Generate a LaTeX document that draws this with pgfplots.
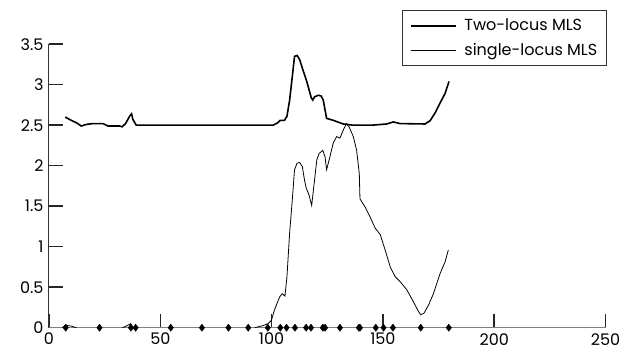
\documentclass[border=0pt]{standalone}
\usepackage{fontspec}
\setmainfont{Poppins}
\usepackage{pgfplots}
\pgfplotsset{compat=1.18}
\begin{document}
\begin{tikzpicture}
\fontsize{16}{19}\selectfont
\begin{axis}[
  at={(0pt,0pt)}, anchor=south west,
  scale only axis, width=556.5pt, height=283.5pt,
  xmin=0, xmax=250, ymin=0, ymax=3.5,
  clip=false,
  axis x line=bottom, axis y line=left,
  x axis line style={-, draw=gray, line width=1.1pt},
  y axis line style={-, draw=black!80, line width=1pt},
  xtick={0,50,100,150,200,250},
  ytick={0,0.5,1,1.5,2,2.5,3,3.5},
  tick align=inside,
  major tick length=14pt,
  every tick/.style={black!85, line width=1.5pt},
  /pgf/number format/assume math mode=true,
  tick label style={font=\fontsize{16}{19}\selectfont},
  unbounded coords=jump,
  legend style={at={(axis description cs:1.002,1.119)}, anchor=north east,
    draw=black!80, line width=0.7pt, font=\fontsize{16}{19}\selectfont,
    inner xsep=7pt, inner ysep=6pt, row sep=6pt, column sep=6pt,
    nodes={inner sep=2pt}},
  legend cell align=left,
  legend image code/.code={\draw[#1] (0pt,0pt) -- (45pt,0pt);},
]
\addplot[black, line width=1.6pt] coordinates {
(7.3,2.60)(10,2.56)(12.3,2.53)(14.5,2.49)(16.8,2.51)(19.8,2.52)(24.3,2.52)(26.5,2.49)
(31.7,2.49)(32.9,2.48)(34.4,2.52)(36.2,2.61)(37.1,2.64)(37.7,2.57)(39.2,2.50)(60,2.50)
(80,2.50)(100.6,2.50)(102.8,2.53)(103.9,2.56)(105.8,2.56)(106.9,2.61)(108.1,2.81)
(109.3,3.10)(110.3,3.35)(111.5,3.36)(112.6,3.31)(114.1,3.18)(115.8,3.04)(117.8,2.84)
(118.5,2.81)(119.3,2.85)(121,2.87)(122.3,2.86)(123.2,2.81)(124.7,2.585)(127.7,2.56)
(132.2,2.515)(136.7,2.50)(145,2.50)(151.7,2.515)(154.7,2.54)(157.7,2.52)(168.9,2.515)
(171.2,2.555)(173.4,2.65)(175.6,2.77)(177.9,2.89)(179.7,3.04)
};
\addlegendentry{Two-locus MLS}
\addplot[black, line width=0.8pt] coordinates {
(6,0)(7.3,0.03)(10,0.02)(12.3,0)(20,nan)
(33,0)(34.7,0.02)(36.7,0.05)(37.7,0)(60,nan)
(92.4,0)(96.1,0.025)(98.4,0.05)(99.9,0.09)(101.3,0.22)(103.6,0.38)(104.8,0.42)(106,0.39)
(106.9,0.63)(108.1,1.17)(109.3,1.58)(110.3,1.95)(111.4,2.03)(112.6,2.04)(113.8,1.99)
(114.8,1.82)(115.6,1.72)(116.8,1.64)(118,1.51)(119.2,1.80)(120.3,2.07)(121.3,2.15)
(123,2.19)(124,2.11)(124.7,1.95)(126.2,2.11)(127.7,2.28)(129.2,2.36)(130.7,2.34)
(132.2,2.44)(133.6,2.52)(134.8,2.48)(136.7,2.36)(138.2,2.19)(139.4,1.90)(139.7,1.59)
(142,1.49)(144.2,1.37)(146.5,1.23)(148.8,1.15)(151,0.96)(153.3,0.75)(155.5,0.63)
(157.7,0.57)(160.7,0.47)(163.7,0.32)(166,0.20)(167,0.16)(168.5,0.18)(170.5,0.28)
(172.7,0.42)(175.7,0.67)(177.9,0.81)(179.4,0.96)
};
\addlegendentry{single-locus MLS}
\addplot[only marks, mark=diamond*, mark size=3.6pt, black, forget plot] coordinates {
(7.5,0)(22.7,0)(36.8,0)(38.9,0)(54.7,0)(68.7,0)(80.6,0)(89.5,0)(98.3,0)(103.9,0)
(106.7,0)(110.5,0)(115.5,0)(117.7,0)(123,0)(124,0)(130.7,0)(139.2,0)(139.7,0)
(146.8,0)(150.3,0)(154.5,0)(167,0)(179.6,0)
};
\end{axis}
\pgfresetboundingbox
\useasboundingbox (-49pt,-23.3pt) rectangle (572pt,327.7pt);
\end{tikzpicture}
\end{document}
